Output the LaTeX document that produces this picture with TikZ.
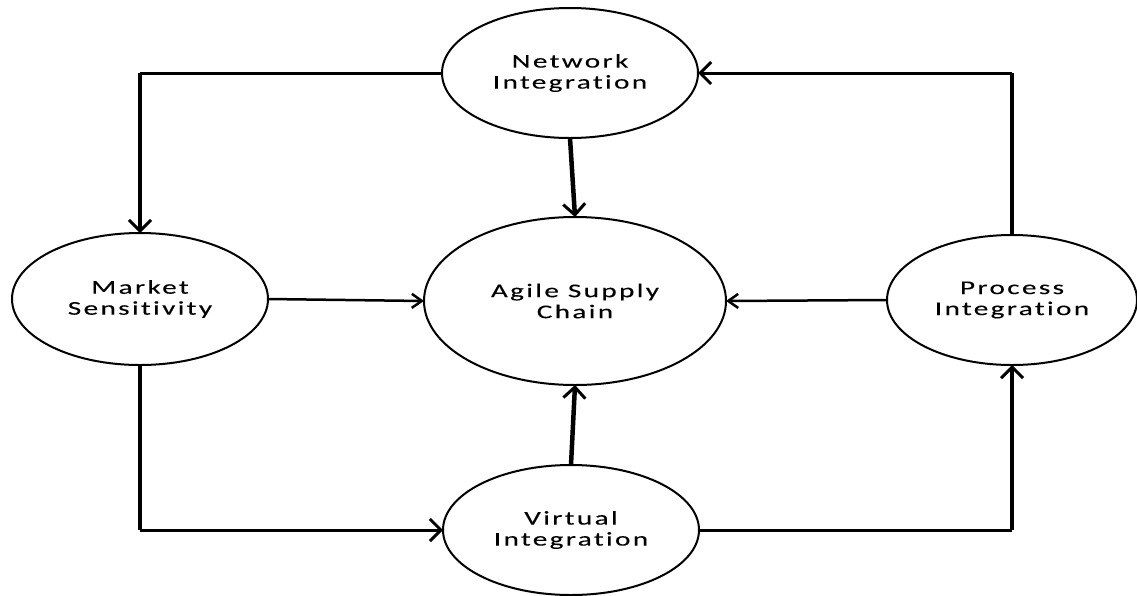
\documentclass[tikz,border=0pt]{standalone}
\usepackage{fontspec}
\setmainfont{Carlito}[FakeStretch=1.5,LetterSpace=12,FakeBold=0.15,Ligatures=NoCommon]
\usetikzlibrary{shapes.geometric,arrows.meta}

\tikzset{
  bubble/.style={shape=ellipse,draw,line width=2pt,inner sep=0pt,outer sep=0pt,
    align=center,font=\fontsize{19.5}{21}\selectfont},
  flow/.style={line width=3pt},
  riser/.style={line width=4.5pt},
  feed/.style={line width=2.5pt},
  tip/.style={-{Straight Barb[length=11pt,width=22pt,line width=3pt]}},
  thintip/.style={-{Straight Barb[length=10pt,width=14pt,line width=2.5pt]}}
}

\begin{document}
\begin{tikzpicture}[x=1pt,y=-1pt]
      \useasboundingbox (0,0) rectangle (1137,595);

      \path node (net) at (570,73) [bubble,minimum width=256pt,minimum height=130pt]
            {Network\\Integration};

      \path node (asc) at (575,301) [bubble,minimum width=302pt,minimum height=168pt]
            {Agile Supply\\Chain};

      \path node (mkt) at (140,299) [bubble,minimum width=256pt,minimum height=132pt]
            {Market\\Sensitivity};

      \path node (proc) at (1012,300) [bubble,minimum width=250pt,minimum height=130pt]
            {Process\\Integration};

      \path node (virt) at (571,530) [bubble,minimum width=256pt,minimum height=130pt]
            {Virtual\\Integration};

      % corners of the outer loop
      \coordinate (nw) at (net.west -| mkt.north);
      \coordinate (ne) at (net.east -| proc.north);
      \coordinate (sw) at (virt.west -| mkt.south);
      \coordinate (se) at (virt.east -| proc.south);

      \draw[flow] (net.west) -- (nw);
      \draw[riser,tip] (nw) -- (mkt.north);

      \draw[riser] (proc.north) -- (ne);
      \draw[flow,tip] (ne) -- (net.east);

      \draw[riser] (mkt.south) -- (sw);
      \draw[flow,tip] (sw) -- (virt.west);

      \draw[flow] (virt.east) -- (se);
      \draw[riser,tip] (se) -- (proc.south);

      % into the centre
      \draw[riser,tip] (net.south) -- (asc.north);
      \draw[riser,tip] (virt.north) -- (asc.south);
      \draw[feed,thintip] (mkt.east) -- (asc.west);
      \draw[feed,thintip] (proc.west) -- (asc.east);
    \end{tikzpicture}
\end{document}
